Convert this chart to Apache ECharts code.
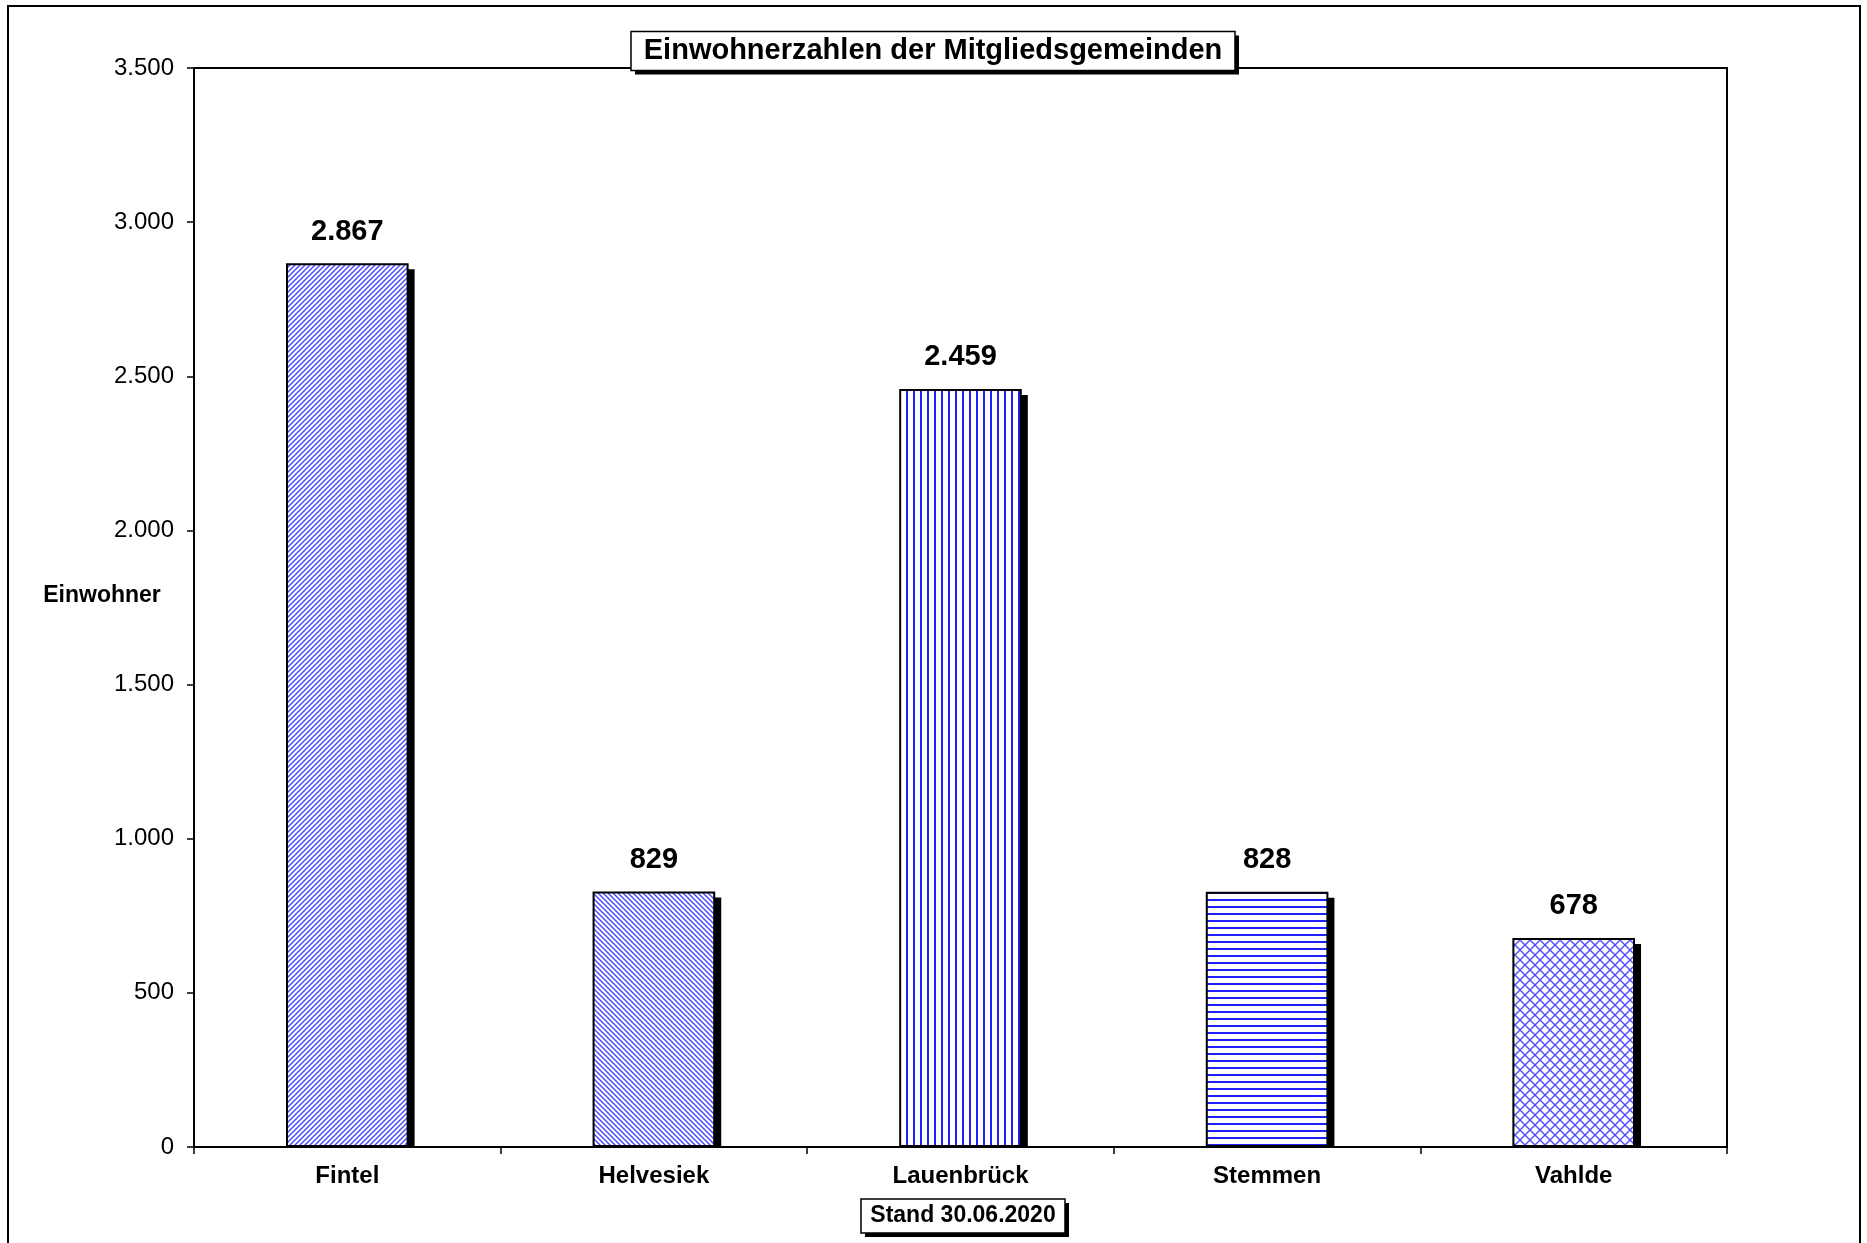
<!DOCTYPE html>
<html>
<head>
<meta charset="utf-8">
<script src="https://cdn.jsdelivr.net/npm/echarts@6/dist/echarts.min.js"></script>
<style>html,body{margin:0;padding:0;background:#fff;}#c{width:1867px;height:1243px;}</style>
</head>
<body>
<div id="c"></div>
<script>
const titleText = 'Einwohnerzahlen der Mitgliedsgemeinden';
const footerText = 'Stand 30.06.2020';
const yName = 'Einwohner';
const categories = ['Fintel', 'Helvesiek', 'Lauenbrück', 'Stemmen', 'Vahlde'];
const values = [2867, 829, 2459, 828, 678];
const yTicks = [0, 500, 1000, 1500, 2000, 2500, 3000, 3500];

function makePattern(kind) {
  const c = document.createElement('canvas');
  const ctx = c.getContext('2d');
  let s;
  if (kind === 'fwd' || kind === 'back') s = 5;
  else if (kind === 'vert' || kind === 'horiz') s = 7;
  else s = 10;
  c.width = s; c.height = s;
  ctx.fillStyle = '#ffffff';
  ctx.fillRect(0, 0, s, s);
  ctx.strokeStyle = '#4848ff';
  ctx.lineWidth = 1.4;
  if (kind === 'fwd') {
    for (let k = -1; k <= 1; k++) {
      const o = k * s;
      ctx.beginPath(); ctx.moveTo(o - 1, s + 1); ctx.lineTo(o + s + 1, -1); ctx.stroke();
    }
  } else if (kind === 'back') {
    for (let k = -1; k <= 1; k++) {
      const o = k * s;
      ctx.beginPath(); ctx.moveTo(o - 1, -1); ctx.lineTo(o + s + 1, s + 1); ctx.stroke();
    }
  } else if (kind === 'vert') {
    ctx.fillStyle = '#2020ff';
    ctx.fillRect(3, 0, 2, s);
  } else if (kind === 'horiz') {
    ctx.fillStyle = '#2020ff';
    ctx.fillRect(0, 3, s, 2);
  } else {
    ctx.lineWidth = 1.4;
    ctx.strokeStyle = '#5050ff';
    ctx.beginPath(); ctx.moveTo(-1, -1); ctx.lineTo(s + 1, s + 1); ctx.stroke();
    ctx.beginPath(); ctx.moveTo(-1, s + 1); ctx.lineTo(s + 1, -1); ctx.stroke();
  }
  return { image: c, repeat: 'repeat' };
}
const patternKinds = ['fwd', 'back', 'vert', 'horiz', 'cross'];

const chart = echarts.init(document.getElementById('c'), null, { renderer: 'canvas' });
const FONT = '"Liberation Sans", Arial, sans-serif';

function fmt(v) { return String(v).replace(/\B(?=(\d{3})+(?!\d))/g, '.'); }

function boxWithShadow(cx, cy, w, h, text, size) {
  return {
    type: 'group', z: 100,
    children: [
      { type: 'rect', shape: { x: cx - w / 2 + 4, y: cy - h / 2 + 4, width: w, height: h }, style: { fill: '#000' } },
      { type: 'rect', shape: { x: cx - w / 2, y: cy - h / 2, width: w, height: h }, style: { fill: '#fff', stroke: '#000', lineWidth: 1.5 } },
      { type: 'text', x: cx, y: cy, style: { text: text, fill: '#000', font: 'bold ' + size + 'px ' + FONT, align: 'center', verticalAlign: 'middle' } }
    ]
  };
}

chart.setOption({
  animation: false,
  backgroundColor: '#fff',
  grid: { left: 194, right: 140, top: 68, bottom: 96, show: true, borderColor: '#000', borderWidth: 2, backgroundColor: 'transparent' },
  xAxis: {
    type: 'category', data: categories,
    axisLine: { lineStyle: { color: '#000', width: 2 } },
    axisTick: { show: true, length: 7, alignWithLabel: false, lineStyle: { color: '#000', width: 1.5 } },
    axisLabel: { color: '#000', fontFamily: FONT, fontWeight: 'bold', fontSize: 24, margin: 17 }
  },
  yAxis: {
    type: 'value', min: 0, max: 3500, interval: 500,
    axisLine: { show: true, lineStyle: { color: '#000', width: 2 } },
    axisTick: { show: true, length: 7, lineStyle: { color: '#000', width: 1.5 } },
    splitLine: { show: false },
    axisLabel: { color: '#000', fontFamily: FONT, fontSize: 24, margin: 20, formatter: v => yTicks.includes(v) ? fmt(v) : '' }
  },
  series: [
    {
      type: 'custom', z: 1, clip: true,
      data: categories.map((c, i) => [i, values[i]]),
      renderItem: function (params, api) {
        const top = api.coord([api.value(0), api.value(1)]);
        const bot = api.coord([api.value(0), 0]);
        const w = api.size([1, 0])[0] * 0.4;
        return { type: 'rect', shape: { x: top[0] - w / 2 + 6, y: top[1] + 6, width: w, height: bot[1] - top[1] - 6 }, style: { fill: '#000' } };
      }
    },
    {
      type: 'bar', z: 2, barWidth: '40%',
      data: values.map((v, i) => ({ value: v, itemStyle: { color: makePattern(patternKinds[i]) } })),
      itemStyle: { borderColor: '#000', borderWidth: 2 },
      label: { show: true, position: 'top', distance: 17, color: '#000', fontFamily: FONT, fontWeight: 'bold', fontSize: 29, formatter: p => fmt(p.value) }
    }
  ],
  graphic: [
    { type: 'rect', z: 0, silent: true, shape: { x: 8, y: 6, width: 1852, height: 1260 }, style: { fill: 'none', stroke: '#000', lineWidth: 2 } },
    boxWithShadow(933, 51, 604, 39, titleText, 29),
    boxWithShadow(963, 1216, 204, 34, footerText, 23),
    { type: 'text', x: 102, y: 596, z: 100, style: { text: yName, fill: '#000', font: 'bold 23px ' + FONT, align: 'center', verticalAlign: 'middle' } }
  ]
});
</script>
</body>
</html>
